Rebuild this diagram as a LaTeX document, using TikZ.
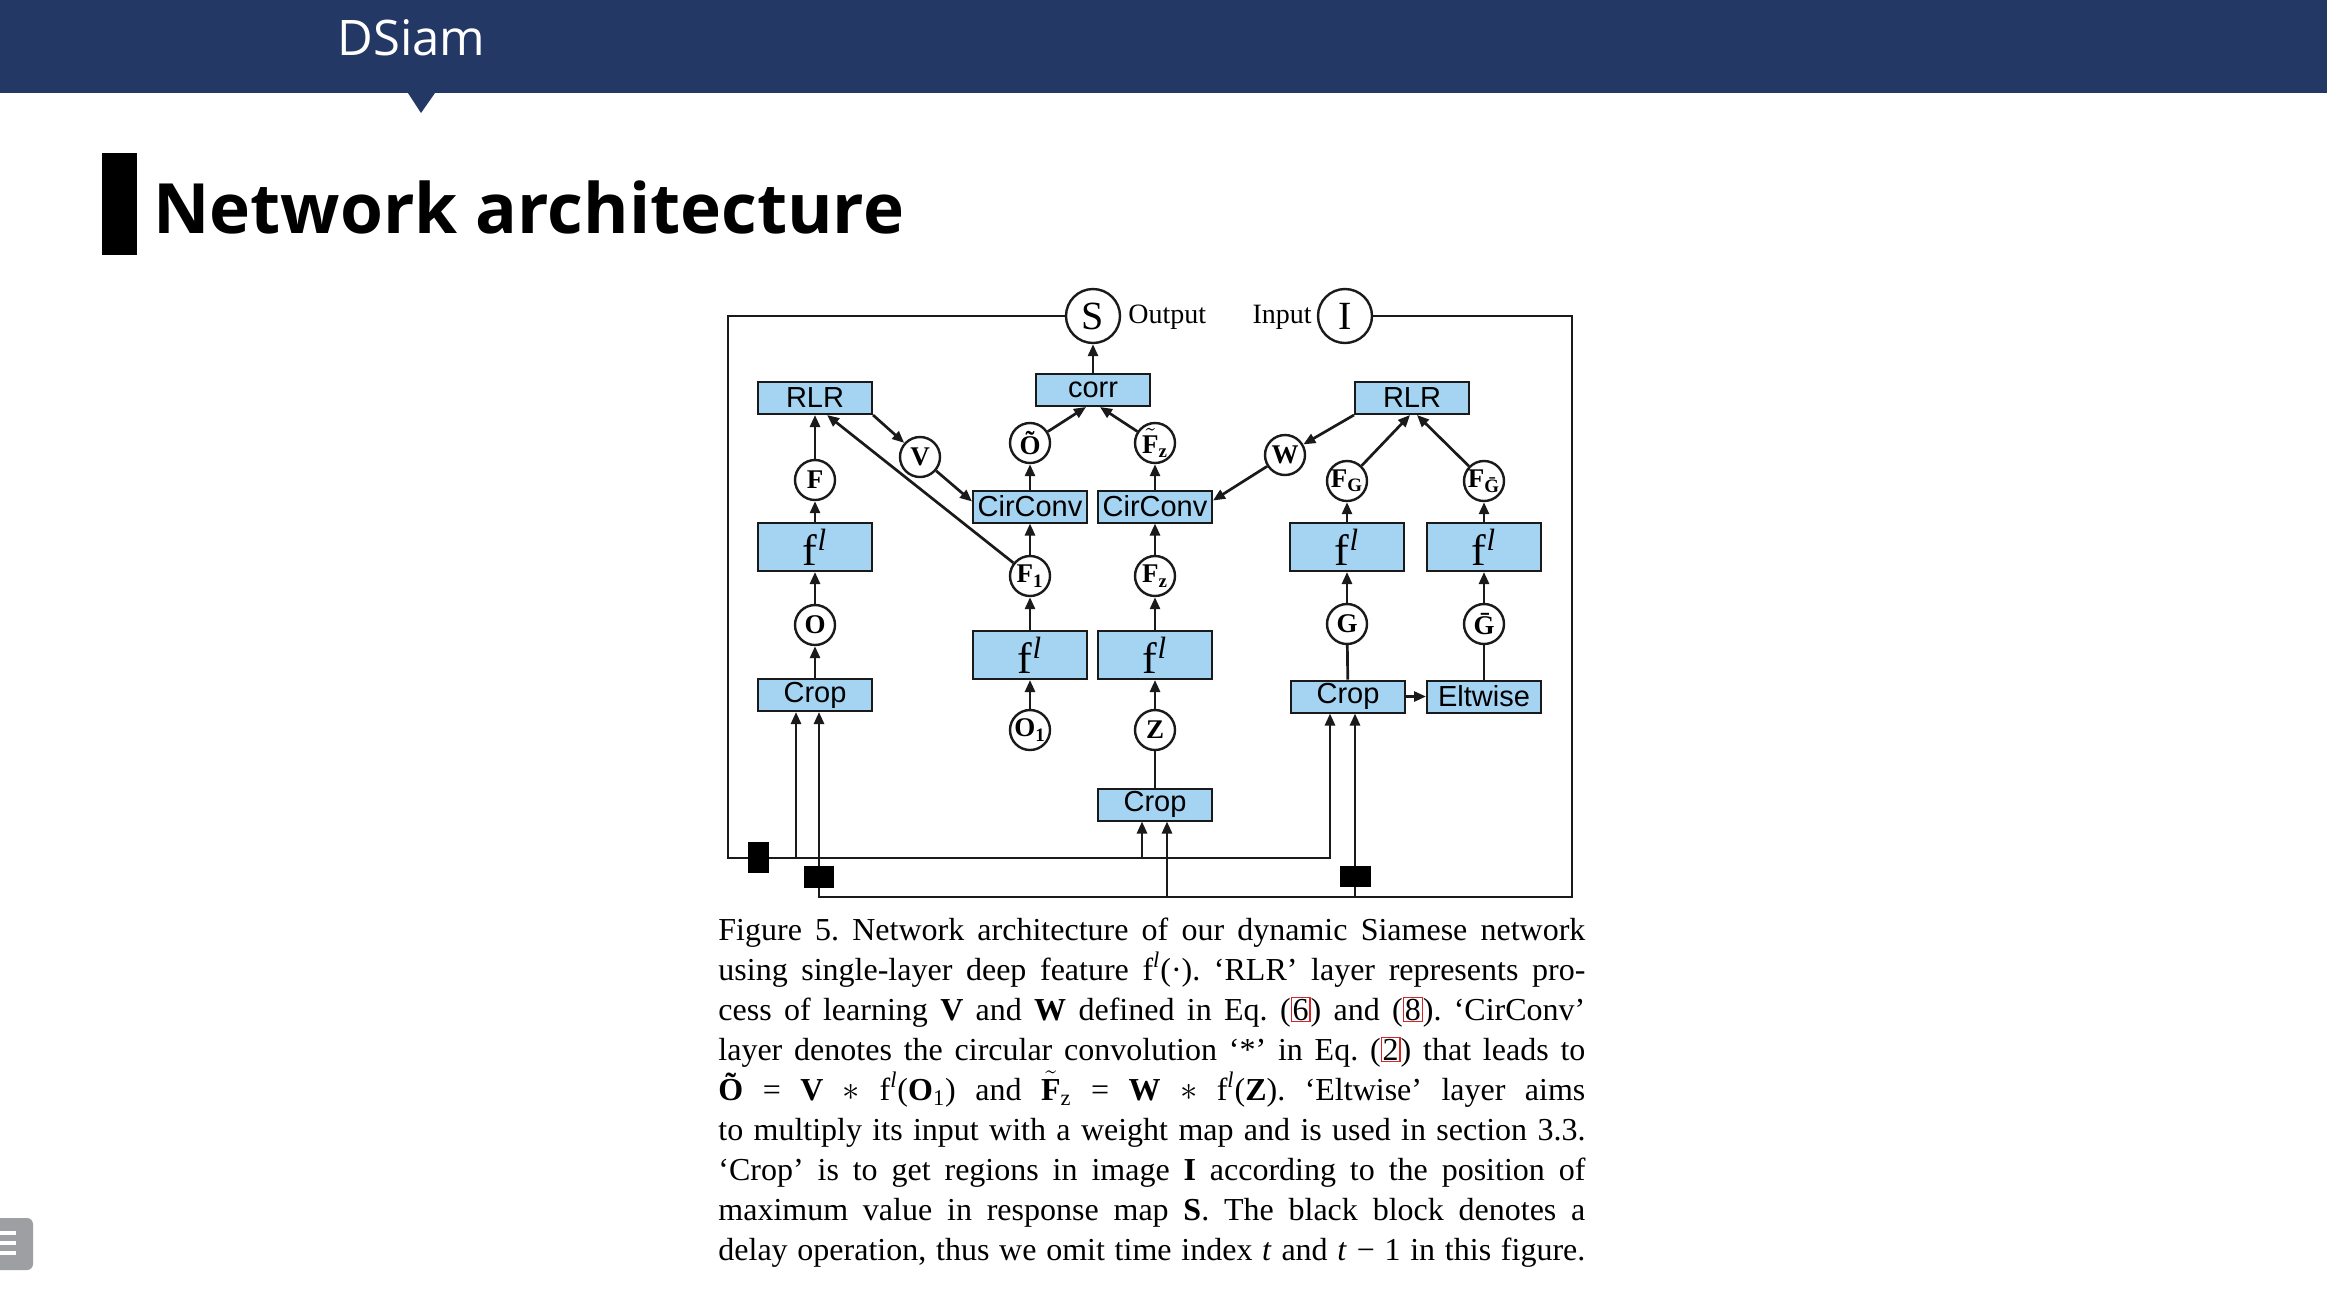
\documentclass[tikz,border=0pt]{standalone}
\usepackage{fontspec}
\setmainfont{Liberation Serif}
\newfontfamily\capfont{Liberation Serif}[WordSpace={0.85,1,1.6}]
\newfontfamily\boxfont{Liberation Sans}
\newfontfamily\slidefont{Open Sans}
\usetikzlibrary{arrows.meta}
\usetikzlibrary{calc}
\usepackage{xcolor}
\definecolor{navy}{HTML}{233865}
\definecolor{bx}{HTML}{A5D4F3}
\definecolor{ln}{HTML}{1A1A1A}
\definecolor{lk}{HTML}{D02828}
\definecolor{ic}{HTML}{9D9FA2}
\newcommand{\eqlink}[1]{{\fboxsep=0.4pt\fboxrule=0.6pt\textcolor{lk}{\fbox{\textcolor{black}{#1}}}}}
\newcommand{\fl}{f\textsuperscript{\itshape l}}
\newcommand{\Ftil}{$\tilde{\textbf{F}}$}

\begin{document}
\begin{tikzpicture}[x=0.5pt, y=-0.5pt,
  layer/.style={draw=ln, fill=bx, line width=1pt, minimum width=57pt, minimum height=16pt, inner sep=0pt, font=\boxfont\fontsize{14.5}{14.5}\selectfont},
  flbox/.style={layer, minimum height=24pt, font=\fontsize{22}{22}\selectfont},
  var/.style={draw=ln, circle, line width=1.2pt, minimum size=20pt, inner sep=0pt, font=\bfseries\fontsize{13.5}{13.5}\selectfont},
  bigvar/.style={var, minimum size=27pt, font=\fontsize{20}{20}\selectfont},
  wire/.style={draw=ln, line width=1.35pt},
  arr/.style={wire, -{Stealth[inset=0pt, length=6pt, width=5pt]}}]

  \fill[white] (0,0) rectangle (2327,1303);
  \useasboundingbox (0,0) rectangle (2327,1303);

  % Header
  \fill[navy] (0,0) rectangle (2327,93);
  \fill[navy] (408,93) -- (435,93) -- (421,113) -- cycle;
  \node[anchor=base west, inner sep=0, text=white, font=\slidefont\fontsize{24.5}{24.5}\selectfont] (deck) at (337,55) {DSiam};

  % Title
  \fill[black] (102,153) rectangle (137,255);
  \node[anchor=base west, inner sep=0, font=\slidefont\bfseries\fontsize{34.7}{34.7}\selectfont] (title) at (153,233) {Network architecture};

  % Menu icon
  \fill[ic] (0,1218) [rounded corners=3pt] -- (33,1218) -- (33,1270) [sharp corners] -- (0,1270) -- cycle;
  \foreach \y in {1233,1243,1253}
    \draw[white, line width=2pt] (0,\y) -- (16,\y);

  % Output and input
  \node[bigvar] (S) at (1093,316) {S};
  \node[anchor=base west, inner sep=0, font=\fontsize{14}{14}\selectfont] (outlbl) at (1128,323) {Output};
  \node[bigvar] (I) at (1345,316) {I};
  \node[anchor=base east, inner sep=0, font=\fontsize{14}{14}\selectfont] (inlbl) at (1312,323) {Input};

  % Layers
  \node[layer] (rlrL) at (815,398) {RLR};
  \node[layer] (corr) at (1093,390) {corr};
  \node[layer] (rlrR) at (1412,398) {RLR};
  \node[layer] (convL) at (1030,506.5) {CirConv};
  \node[layer] (convR) at (1155,506.5) {CirConv};
  \node[flbox] (flL) at (815,547) {\fl};
  \node[flbox] (flM1) at (1030,655) {\fl};
  \node[flbox] (flM2) at (1155,655) {\fl};
  \node[flbox] (flR1) at (1347,547) {\fl};
  \node[flbox] (flR2) at (1484,547) {\fl};
  \node[layer] (cropL) at (815,695) {Crop};
  \node[layer] (cropM) at (1155,804.5) {Crop};
  \node[layer] (cropR) at (1348,696.5) {Crop};
  \node[layer] (elt) at (1484,696.5) {Eltwise};

  % Variables
  \node[var] (V) at (920,457) {V};
  \node[var] (W) at (1285,455) {W};
  \node[var] (F) at (815,480) {F};
  \node[var] (Ot) at (1030,443) {Õ};
  \node[var] (Fzt) at (1155,443) {\Ftil\textsubscript{z}};
  \node[var] (F1) at (1030,576) {F\textsubscript{1}};
  \node[var] (F2) at (1155,576) {F\textsubscript{z}};
  \node[var] (O) at (815,625) {O};
  \node[var] (O1) at (1030,730) {O\textsubscript{1}};
  \node[var] (Z) at (1155,730) {Z};
  \node[var] (FG) at (1347,481) {F\textsubscript{G}};
  \node[var] (FGb) at (1484,481) {F\textsubscript{\={G}}};
  \node[var] (G) at (1347,624) {G};
  \node[var] (Gb) at (1484,624) {\={G}};

  % Left branch
  \draw[arr] (cropL) -- (O);
  \draw[arr] (O) -- (flL);
  \draw[arr] (flL) -- (F);
  \draw[arr] (F) -- (rlrL);
  \draw[arr] (rlrL.south east) -- (V);
  \draw[arr] (V) -- ($(convL.west)+(0,-5)$);
  \draw[arr] (F1) -- ($(rlrL.south)+(12,0)$);

  % Middle branches
  \draw[arr] (O1) -- (flM1);
  \draw[arr] (flM1) -- (F1);
  \draw[arr] (F1) -- (convL);
  \draw[arr] (convL) -- (Ot);
  \draw[wire] (cropM) -- (Z);
  \draw[arr] (Z) -- (flM2);
  \draw[arr] (flM2) -- (F2);
  \draw[arr] (F2) -- (convR);
  \draw[arr] (convR) -- (Fzt);
  \draw[arr] (Ot) -- ($(corr.south)+(-7,0)$);
  \draw[arr] (Fzt) -- ($(corr.south)+(7,0)$);
  \draw[arr] (corr) -- (S);

  % Right branch
  \draw[wire] (cropR) -- (G);
  \draw[arr] (G) -- (flR1);
  \draw[arr] (flR1) -- (FG);
  \draw[arr] (cropR) -- (elt);
  \draw[wire] (elt) -- (Gb);
  \draw[arr] (Gb) -- (flR2);
  \draw[arr] (flR2) -- (FGb);
  \draw[arr] (FG) -- ($(rlrR.south)+(-2,0)$);
  \draw[arr] (FGb) -- ($(rlrR.south)+(5,0)$);
  \draw[arr] (rlrR.south west) -- (W);
  \draw[arr] (W) -- ($(convR.east)+(0,-6)$);

  % Feedback loops
  \coordinate (oc) at (728,316);
  \coordinate (ob) at (728,858);
  \coordinate (o1) at (796,858);
  \coordinate (o2) at (1142,858);
  \coordinate (o3) at (1330,858);
  \coordinate (ic) at (1572,316);
  \coordinate (ib) at (1572,897);
  \coordinate (i1) at (819,897);
  \coordinate (i2) at (1167,897);
  \coordinate (i3) at (1355,897);
  \draw[arr] (S) -- (oc) -- (ob) -- (o3) -- (o3 |- cropR.south);
  \draw[arr] (o1) -- (o1 |- cropL.south);
  \draw[arr] (o2) -- (o2 |- cropM.south);
  \draw[arr] (I) -- (ic) -- (ib) -- (i1) -- (i1 |- cropL.south);
  \draw[arr] (i2) -- (i2 |- cropM.south);
  \draw[arr] (i3) -- (i3 |- cropR.south);

  % Delay blocks
  \fill[black] (748,842) rectangle (769,873);
  \fill[black] (804,866) rectangle (834,888);
  \fill[black] (1340,866) rectangle (1371,887);

  % Caption
  \node[anchor=base west, inner sep=0, text width=433.5pt, align=justify, font=\capfont\frenchspacing\fontsize{16}{20}\selectfont] (cap) at (718,940)
  {\parfillskip=0pt
  Figure 5. Network architecture of our dynamic Siamese network\linebreak
  using single-layer deep feature f\textsuperscript{\textit{l}}(·). ‘RLR’ layer represents pro-\linebreak
  cess of learning \textbf{V} and \textbf{W} defined in Eq.~(\eqlink{6}) and (\eqlink{8}). ‘CirConv’\linebreak
  layer denotes the circular convolution ‘*’ in Eq.~(\eqlink{2}) that leads to\linebreak
  \textbf{Õ} = \textbf{V} $*$ f\textsuperscript{\textit{l}}(\textbf{O}\textsubscript{1}) and \Ftil\textsubscript{z} = \textbf{W} $*$ f\textsuperscript{\textit{l}}(\textbf{Z}). ‘Eltwise’ layer aims\linebreak
  to multiply its input with a weight map and is used in section 3.3.\linebreak
  ‘Crop’ is to get regions in image \textbf{I} according to the position of\linebreak
  maximum value in response map \textbf{S}. The black block denotes a\linebreak
  delay operation, thus we omit time index \textit{t} and \textit{t} − 1 in this figure.\par};
\end{tikzpicture}
\end{document}
